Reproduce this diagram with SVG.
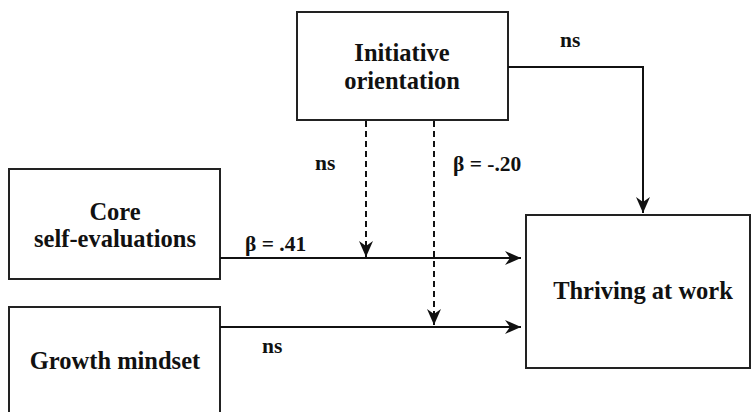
<svg xmlns="http://www.w3.org/2000/svg" width="755" height="412" viewBox="0 0 755 412">
<style>
.box{fill:#fff;stroke:#222;stroke-width:2}
.t{font-family:'Liberation Serif','DejaVu Serif',serif;font-weight:bold;font-size:24.5px;fill:#111;text-anchor:middle}
.l{font-family:'Liberation Serif','DejaVu Serif',serif;font-weight:bold;font-size:21.5px;fill:#111}
.c{fill:none;stroke:#111;stroke-width:2}
.d{stroke-dasharray:6 4}
</style>
<defs>
<marker id="ah" viewBox="-17 -8 18 16" refX="0" refY="0" markerWidth="18" markerHeight="16" markerUnits="userSpaceOnUse" orient="auto">
<path d="M0,0 L-16,-7 L-11,0 L-16,7 Z" fill="#111"/>
</marker>
</defs>
<g id="initiative"><rect class="box" x="297" y="12" width="211" height="108"/><text class="t" x="402" y="61">Initiative</text><text class="t" x="402" y="89">orientation</text></g>
<g id="core"><rect class="box" x="9" y="169" width="211" height="110"/><text class="t" x="115" y="220">Core</text><text class="t" x="115" y="247">self-evaluations</text></g>
<g id="growth"><rect class="box" x="9" y="307" width="211" height="120"/><text class="t" x="115" y="369">Growth mindset</text></g>
<g id="thriving"><rect class="box" x="526" y="215" width="224" height="153"/><text class="t" x="643" y="299">Thriving at work</text></g>
<g id="connectors">
<path class="c" d="M508,67 H643 V213" marker-end="url(#ah)"/>
<path class="c" d="M220,258 H521" marker-end="url(#ah)"/>
<path class="c" d="M220,327 H521" marker-end="url(#ah)"/>
<path class="c d" d="M366,121 V257" marker-end="url(#ah)"/>
<path class="c d" d="M434,121 V325" marker-end="url(#ah)"/>
<text class="l" x="560" y="47">ns</text>
<text class="l" x="315" y="170">ns</text>
<text class="l" x="453" y="171">β = -.20</text>
<text class="l" x="245" y="251">β = .41</text>
<text class="l" x="262" y="353">ns</text>
</g>
</svg>
